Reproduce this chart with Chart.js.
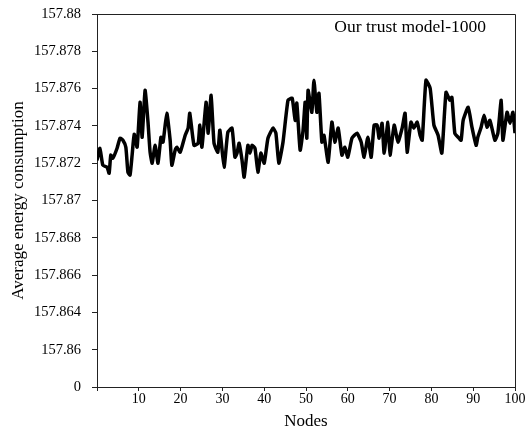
<!DOCTYPE html>
<html>
<head>
<meta charset="utf-8">
<script src="https://cdn.jsdelivr.net/npm/chart.js@4"></script>
<style>
  html, body { margin: 0; padding: 0; background: #fff; }
  #wrap { width: 528px; height: 430px; }
</style>
</head>
<body>
<div id="wrap"><canvas id="energyChart"></canvas></div>
<script>
// values
const nodes = [
  0.0, 0.7, 1.4, 2.4, 2.9, 3.3, 3.8, 4.8, 5.5, 6.2, 6.9, 7.4, 7.9, 8.4, 8.9, 9.6,
  10.3, 10.8, 11.5, 12.2, 12.7, 13.2, 13.9, 14.6, 15.3, 15.8, 16.7, 17.5, 17.9, 18.7, 19.1, 19.9,
  21.1, 21.8, 22.2, 23.2, 24.2, 24.6, 25.1, 26.1, 26.6, 27.3, 28.0, 28.9, 29.4,
  30.4, 31.3, 32.3, 33.0, 33.5, 34.0, 34.7, 35.2, 36.1, 36.6, 37.1, 37.8, 38.5, 39.2,
  40.0, 40.9, 42.1, 42.8, 43.5, 44.5, 45.7, 46.7, 47.4, 47.8, 48.6, 49.3, 49.8,
  50.2, 50.5, 51.4, 51.9, 52.6, 53.1, 53.8, 54.3, 55.3, 56.2, 56.9, 57.7, 58.6, 59.3,
  60.0, 61.0, 62.2, 63.2, 63.9, 64.8, 65.6, 66.3, 67.0, 67.5, 68.2, 68.7, 69.6,
  70.1, 71.1, 72.0, 73.0, 73.7, 74.2, 75.1, 75.8, 76.6, 77.3, 77.8, 78.7, 79.7,
  80.6, 81.6, 82.5, 83.5, 84.4, 84.9, 85.6, 86.4, 87.1, 87.6, 88.8, 89.7,
  90.7, 91.1, 91.9, 92.6, 93.3, 94.0, 95.2, 95.9, 96.7, 97.1, 98.1, 98.8, 99.5, 100
];
const energy = [
  157.87216, 157.8728, 157.87189, 157.87179, 157.87146, 157.87243, 157.87227, 157.8728,
  157.87334, 157.87323, 157.87286, 157.87152, 157.87136, 157.87243, 157.87355, 157.87286,
  157.87527, 157.87339, 157.87591, 157.8742, 157.87259, 157.872, 157.87296, 157.872,
  157.87339, 157.87313, 157.87468, 157.87323, 157.87189, 157.8727, 157.87286, 157.87259,
  157.8735, 157.87388, 157.87468, 157.87296, 157.87307, 157.87404, 157.87286, 157.87527,
  157.87361, 157.87564, 157.87307, 157.87259, 157.87377,
  157.87179, 157.87366, 157.87388, 157.87232, 157.87254, 157.87307, 157.87216, 157.87125,
  157.87296, 157.87254, 157.87296, 157.8728, 157.87152, 157.87254,
  157.872, 157.87334, 157.87388, 157.87361, 157.872, 157.87313, 157.87538, 157.87548,
  157.8743, 157.87522, 157.8727, 157.87377, 157.87527,
  157.87334, 157.87591, 157.87473, 157.87645, 157.87473, 157.87575, 157.87313, 157.8735,
  157.87205, 157.8742, 157.87313, 157.87388, 157.87243, 157.87286,
  157.87232, 157.87334, 157.87361, 157.87313, 157.87232, 157.87339, 157.87232, 157.87404,
  157.87404, 157.87334, 157.87414, 157.87254, 157.8742,
  157.87243, 157.87404, 157.87313, 157.87388, 157.87468, 157.87259, 157.8742, 157.87388,
  157.8742, 157.8735, 157.87323, 157.87645, 157.87602,
  157.87404, 157.8735, 157.87254, 157.8758, 157.87538, 157.87554, 157.87361, 157.87339,
  157.87323, 157.8743, 157.875, 157.87393,
  157.87296, 157.87339, 157.87393, 157.87457, 157.87393, 157.8743, 157.87323, 157.87361,
  157.87538, 157.87323, 157.87473, 157.87414, 157.87473, 157.87361
];
// tick labels from bottom to top, as printed on the original
const yTickLabels = ["0", "157.86", "157.864", "157.866", "157.868", "157.87",
  "157.872", "157.874", "157.876", "157.878", "157.88"];
const seriesLabel = "Our trust model-1000";

const serif = "'Liberation Serif', 'DejaVu Serif', serif";

const framePlugin = {
  id: "frame",
  afterDraw(chart) {
    const { ctx, chartArea: a } = chart;
    ctx.save();
    ctx.strokeStyle = "#222";
    ctx.lineWidth = 1;
    ctx.beginPath();
    ctx.moveTo(a.left, a.top + 0.5);
    ctx.lineTo(a.right + 0.5, a.top + 0.5);
    ctx.lineTo(a.right + 0.5, a.bottom);
    ctx.stroke();
    ctx.fillStyle = "#000";
    ctx.font = "17.5px " + serif;
    ctx.textAlign = "right";
    ctx.textBaseline = "alphabetic";
    ctx.fillText(chart.data.datasets[0].label, a.right - 29, a.top + 18);
    ctx.restore();
  }
};

new Chart(document.getElementById("energyChart"), {
  type: "line",
  data: {
    datasets: [{
      label: seriesLabel,
      data: nodes.map((n, i) => ({ x: n, y: energy[i] })),
      borderColor: "#000",
      borderWidth: 3.5,
      pointRadius: 0,
      tension: 0.15,
      fill: false
    }]
  },
  options: {
    responsive: true,
    maintainAspectRatio: false,
    animation: false,
    layout: { padding: { top: 14, right: 13, left: 0, bottom: 0 } },
    plugins: { legend: { display: false }, tooltip: { enabled: false } },
    scales: {
      x: {
        type: "linear",
        min: 0,
        max: 100,
        ticks: {
          stepSize: 10,
          color: "#000",
          font: { family: serif, size: 14 },
          padding: 0,
          maxRotation: 0,
          callback: (v) => (v === 0 ? "" : v)
        },
        grid: { drawOnChartArea: false, drawTicks: true, tickLength: 4, color: "#222" },
        border: { color: "#222", width: 1 },
        title: { display: true, text: "Nodes", color: "#000", font: { family: serif, size: 17, lineHeight: 1 }, padding: { top: 4, bottom: 0 } },
        afterFit: (s) => { s.height = 43; }
      },
      y: {
        min: 157.86,
        max: 157.88,
        ticks: {
          stepSize: 0.002,
          color: "#000",
          font: { family: serif, size: 14.5 },
          padding: 11,
          callback: (v, i) => yTickLabels[i]
        },
        grid: { drawOnChartArea: false, drawTicks: true, tickLength: 5, color: "#222" },
        border: { color: "#222", width: 1 },
        title: { display: true, text: "Average energy consumption", color: "#000", font: { family: serif, size: 17 }, padding: { top: 8, bottom: 0 } },
        afterFit: (s) => { s.width = 97; s.paddingTop = 0; s.paddingBottom = 0; }
      }
    }
  },
  plugins: [framePlugin]
});
</script>
</body>
</html>
